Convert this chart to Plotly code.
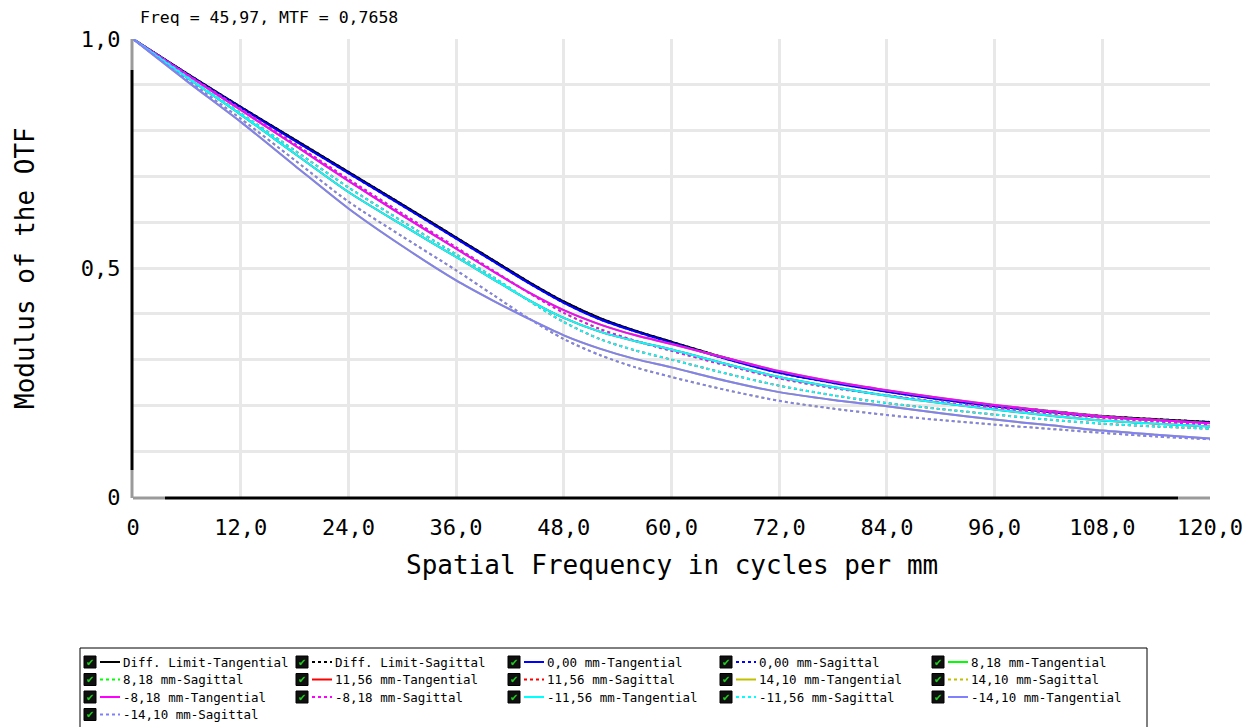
import plotly.graph_objects as go

# Spatial frequency (cycles/mm)
freq = [0, 6, 12, 18, 24, 30, 36, 40, 44, 48, 52, 56, 60, 66, 72, 78, 84, 90, 96, 102, 108, 114, 120]

# MTF values
diff_t = [1.0, 0.925, 0.852, 0.781, 0.710, 0.639, 0.567, 0.519, 0.471, 0.427, 0.391, 0.363, 0.339, 0.304, 0.273, 0.251, 0.232, 0.215, 0.200, 0.188, 0.177, 0.170, 0.164]
diff_s = [1.0, 0.925, 0.852, 0.781, 0.710, 0.639, 0.567, 0.519, 0.471, 0.427, 0.391, 0.363, 0.339, 0.304, 0.273, 0.251, 0.232, 0.215, 0.200, 0.188, 0.177, 0.170, 0.164]
f000_t = [1.0, 0.924, 0.850, 0.778, 0.707, 0.636, 0.564, 0.516, 0.468, 0.424, 0.388, 0.361, 0.337, 0.302, 0.271, 0.249, 0.230, 0.213, 0.198, 0.186, 0.175, 0.168, 0.162]
f000_s = [1.0, 0.924, 0.850, 0.778, 0.707, 0.636, 0.564, 0.516, 0.468, 0.424, 0.388, 0.361, 0.337, 0.302, 0.271, 0.249, 0.230, 0.213, 0.198, 0.186, 0.175, 0.168, 0.162]
f818_t = [1.0, 0.922, 0.845, 0.768, 0.690, 0.615, 0.542, 0.494, 0.448, 0.408, 0.377, 0.353, 0.334, 0.304, 0.275, 0.252, 0.233, 0.216, 0.201, 0.188, 0.176, 0.168, 0.161]
f818_s = [1.0, 0.923, 0.847, 0.771, 0.694, 0.619, 0.545, 0.496, 0.447, 0.402, 0.367, 0.341, 0.319, 0.288, 0.259, 0.238, 0.222, 0.207, 0.195, 0.183, 0.173, 0.165, 0.158]
f1156_t = [1.0, 0.916, 0.835, 0.750, 0.666, 0.594, 0.524, 0.477, 0.431, 0.391, 0.361, 0.340, 0.322, 0.291, 0.262, 0.240, 0.221, 0.205, 0.191, 0.178, 0.167, 0.160, 0.154]
f1156_s = [1.0, 0.918, 0.838, 0.757, 0.676, 0.602, 0.530, 0.482, 0.430, 0.382, 0.345, 0.320, 0.300, 0.270, 0.243, 0.222, 0.205, 0.192, 0.180, 0.169, 0.160, 0.154, 0.149]
f1410_t = [1.0, 0.908, 0.819, 0.724, 0.630, 0.548, 0.473, 0.430, 0.390, 0.353, 0.324, 0.301, 0.283, 0.254, 0.229, 0.212, 0.198, 0.183, 0.169, 0.157, 0.145, 0.136, 0.128]
f1410_s = [1.0, 0.911, 0.826, 0.736, 0.645, 0.569, 0.495, 0.443, 0.391, 0.345, 0.310, 0.283, 0.262, 0.234, 0.210, 0.193, 0.179, 0.168, 0.158, 0.149, 0.140, 0.132, 0.126]

series_names = [
    "Diff. Limit-Tangential", "Diff. Limit-Sagittal",
    "0,00 mm-Tangential", "0,00 mm-Sagittal",
    "8,18 mm-Tangential", "8,18 mm-Sagittal",
    "11,56 mm-Tangential", "11,56 mm-Sagittal",
    "14,10 mm-Tangential", "14,10 mm-Sagittal",
    "-8,18 mm-Tangential", "-8,18 mm-Sagittal",
    "-11,56 mm-Tangential", "-11,56 mm-Sagittal",
    "-14,10 mm-Tangential", "-14,10 mm-Sagittal",
]
series_values = [
    diff_t, diff_s, f000_t, f000_s,
    f818_t, f818_s, f1156_t, f1156_s, f1410_t, f1410_s,
    f818_t, f818_s, f1156_t, f1156_s, f1410_t, f1410_s,
]
series_colors = [
    "#000000", "#000000", "#0000FF", "#0000FF",
    "#00FF00", "#00FF00", "#FF0000", "#FF0000",
    "#C0C000", "#C0C000", "#FF00FF", "#FF00FF",
    "#00FFFF", "#00FFFF", "#8080FF", "#8080FF",
]

x_ticks = [0, 12, 24, 36, 48, 60, 72, 84, 96, 108, 120]
x_ticktext = ["0", "12,0", "24,0", "36,0", "48,0", "60,0", "72,0", "84,0", "96,0", "108,0", "120,0"]
y_ticks = [0, 0.5, 1.0]
y_ticktext = ["0", "0,5", "1,0"]

title_text = "Freq = 45,97, MTF = 0,7658"
x_title = "Spatial Frequency in cycles per mm"
y_title = "Modulus of the OTF"

MONO = "DejaVu Sans Mono"
OFF = 8  # page body margin
W, H = 1250, 719
L, R, T = 133 - OFF, 48, 39 - OFF
B = H - (497 - OFF)
PW, PH = W - L - R, H - T - B


def px(x):
    # page pixel -> paper x
    return (x - OFF - L) / PW


def py(y):
    # page pixel -> paper y
    return (H - B - (y - OFF)) / PH


fig = go.Figure()
for name, vals, col in zip(series_names, series_values, series_colors):
    fig.add_trace(go.Scatter(
        x=freq, y=vals, mode="lines", name=name,
        line=dict(color=col, width=2, dash="dot" if "Sagittal" in name else "solid", shape="spline", smoothing=0.8),
        showlegend=False,
    ))

shapes = []
annotations = []


def seg(x0, y0, x1, y1, color, width=3):
    shapes.append(dict(type="line", xref="paper", yref="paper", x0=px(x0), y0=py(y0), x1=px(x1), y1=py(y1),
                       line=dict(color=color, width=width), layer="above"))


# axis lines (grey ends, black middle)
seg(132, 39, 132, 70, "#9a9a9a")
seg(132, 70, 132, 470, "#000000")
seg(132, 470, 132, 498, "#9a9a9a")
seg(133, 498, 165, 498, "#9a9a9a")
seg(165, 498, 1178, 498, "#000000")
seg(1178, 498, 1210, 498, "#9a9a9a")

# legend box with checkboxes
shapes.append(dict(type="rect", xref="paper", yref="paper", x0=px(80), x1=px(1147), y0=py(648), y1=py(740),
                   line=dict(color="#000000", width=1), fillcolor="rgba(0,0,0,0)"))
for i, (name, col) in enumerate(zip(series_names, series_colors)):
    r, c = divmod(i, 5)
    x0 = 84 + 212 * c
    yc = 662 + 17.5 * r
    shapes.append(dict(type="rect", xref="paper", yref="paper", x0=px(x0), x1=px(x0 + 12), y0=py(yc - 6), y1=py(yc + 6),
                       line=dict(color="#000000", width=1), fillcolor="#101010"))
    annotations.append(dict(x=px(x0 + 6), y=py(yc), xref="paper", yref="paper", text="✔", showarrow=False,
                            font=dict(family="DejaVu Sans", size=10, color="#22cc22"), xanchor="center", yanchor="middle"))
    shapes.append(dict(type="line", xref="paper", yref="paper", x0=px(x0 + 16), x1=px(x0 + 36), y0=py(yc), y1=py(yc),
                       line=dict(color=col, width=2, dash="dot" if "Sagittal" in name else "solid")))
    annotations.append(dict(x=px(x0 + 37), y=py(yc), xref="paper", yref="paper", text=name, showarrow=False,
                            font=dict(family=MONO, size=12.5, color="#000000"), xanchor="left", yanchor="middle"))

# title and axis titles
annotations.append(dict(x=px(139), y=py(18), xref="paper", yref="paper", text=title_text, showarrow=False,
                        font=dict(family=MONO, size=16.5, color="#000000"), xanchor="left", yanchor="middle",
                        borderpad=0))
annotations.append(dict(x=px(672), y=py(565), xref="paper", yref="paper", text=x_title, showarrow=False,
                        font=dict(family=MONO, size=26, color="#000000"), xanchor="center", yanchor="middle"))
annotations.append(dict(x=px(25), y=py(268), xref="paper", yref="paper", text=y_title, showarrow=False, textangle=-90,
                        font=dict(family=MONO, size=26, color="#000000"), xanchor="center", yanchor="middle"))

GRID = "#e8e8e8"
fig.update_layout(
    width=W, height=H,
    margin=dict(l=L, r=R, t=T, b=B, pad=0),
    paper_bgcolor="white", plot_bgcolor="white",
    showlegend=False,
    shapes=shapes, annotations=annotations,
    xaxis=dict(range=[0, 120], tickvals=x_ticks, ticktext=x_ticktext, showgrid=True, gridcolor=GRID, gridwidth=3,
               zeroline=False, showline=False, ticks="outside", ticklen=11, tickcolor="rgba(0,0,0,0)",
               tickfont=dict(family=MONO, size=22, color="#000000")),
    yaxis=dict(range=[0, 1.0], tickvals=y_ticks, ticktext=y_ticktext, showgrid=True, gridcolor=GRID, gridwidth=3,
               zeroline=False, showline=False, ticks="outside", ticklen=7, tickcolor="rgba(0,0,0,0)",
               tickfont=dict(family=MONO, size=22, color="#000000"),
               minor=dict(dtick=0.1, tick0=0, showgrid=True, gridcolor=GRID, gridwidth=3, ticks="")),
)

fig.write_html("out.html")
